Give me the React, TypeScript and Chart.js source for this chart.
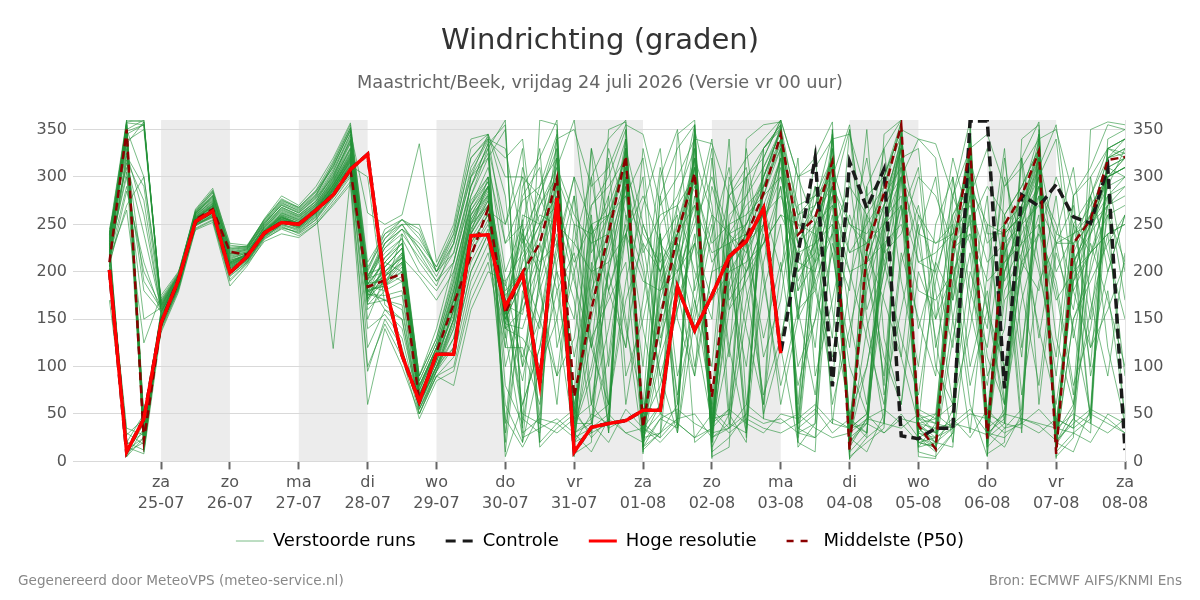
import React, { useEffect, useRef } from "react";
import { Chart, registerables } from "chart.js";

Chart.register(...registerables);

const FONT = "'DejaVu Sans', 'Noto Sans', sans-serif";

// Forecast steps in hours after vr 24-07 00 uur
const uren = [
  6, 12, 18, 24, 30, 36, 42, 48, 54, 60, 66, 72, 78, 84, 90, 96, 102, 108, 114, 120,
  126, 132, 138, 144, 150, 156, 162, 168, 174, 180, 186, 192, 198, 204, 210, 216, 222, 228, 234, 240,
  246, 252, 258, 264, 270, 276, 282, 288, 294, 300, 306, 312, 318, 324, 330, 336, 342, 348, 354, 360,
];

// Day ticks (midnight) and their labels
const tickUren = [24, 48, 72, 96, 120, 144, 168, 192, 216, 240, 264, 288, 312, 336, 360];
const dagNamen = ["za", "zo", "ma", "di", "wo", "do", "vr", "za", "zo", "ma", "di", "wo", "do", "vr", "za"];
const datums = [
  "25-07", "26-07", "27-07", "28-07", "29-07", "30-07", "31-07",
  "01-08", "02-08", "03-08", "04-08", "05-08", "06-08", "07-08", "08-08",
];

// Y-axis tick values (degrees)
const graadTicks = [0, 50, 100, 150, 200, 250, 300, 350];

// Start hour of every shaded day
const gearceerdeDagen = [24, 72, 120, 168, 216, 264, 312];

// Hoge resolutie run (up to 240 h)
const hogeResolutie = [
  202, 10, 45, 146, 191, 253, 264, 199, 216, 241, 252, 250, 265, 281, 308, 324, 188, 112, 63, 113,
  113, 238, 239, 163, 198, 82, 278, 10, 36, 40, 43, 54, 54, 184, 138, 175, 216, 232, 267, 114,
];

// Controle run
const controle = [
  202, 10, 45, 146, 191, 253, 264, 199, 216, 241, 252, 250, 265, 281, 308, 324, 188, 112, 63, 113,
  113, 238, 239, 163, 198, 82, 278, 10, 36, 40, 43, 54, 54, 184, 138, 175, 216, 232, 267, 114,
  219, 320, 79, 316, 267, 308, 27, 24, 35, 35, 359, 359, 77, 281, 269, 292, 258, 251, 310, 12,
];

// Ensemble median (P50)
const middelste = [
  210, 350, 22, 145, 190, 255, 266, 221, 218, 240, 252, 251, 265, 282, 308, 184, 191, 198, 64, 115,
  166, 216, 267, 156, 199, 230, 299, 68, 160, 241, 322, 36, 150, 240, 304, 68, 216, 237, 283, 345,
  239, 257, 316, 12, 223, 283, 355, 38, 13, 220, 332, 24, 250, 280, 327, 8, 230, 255, 318, 321,
];

// Perturbed ensemble members
const verstoordeRuns: number[][] = [
  [210,355,15,148,186,252,265,215,220,243,258,248,265,290,320,175, 205,225,70,110,180,250,290,40,
   215,250,320,30,45,60,330,25,190,240,300,40,55,300,330,350,35,25,250,20,45,240,330,15,40,260,290,30,240,260,340,25,210,250,300,310],
  [225,340,30,155,190,258,272,205,215,240,262,255,270,295,330,160, 180,240,65,100,150,300,320,200,
   250,15,35,50,270,300,350,40,230,260,20,35,250,300,45,330,200,220,340,25,40,255,280,30,50,225,240,30,45,260,300,20,55,240,270,35],
  [230,8,40,140,182,248,260,200,212,236,250,245,258,280,305,185, 195,210,80,120,170,260,280,150,
   190,230,290,20,160,250,330,30,120,220,310,55,230,250,290,355,260,270,320,10,230,300,358,40,20,210,340,30,260,290,330,15,240,260,320,325],
  [205,358,360,165,195,262,280,225,225,252,270,262,278,300,340,195, 230,250,220,190,210,280,330,360,
   30,45,40,25,35,50,30,20,45,55,40,30,35,60,45,40,50,35,25,30,45,55,40,20,25,40,35,28,50,45,38,22,40,55,45,30],
  [240,310,22,150,188,250,258,195,210,238,248,240,252,275,300,180, 170,160,55,95,130,220,250,180,
   200,240,310,360,220,260,150,15,180,230,100,200,210,240,60,340,230,120,300,355,200,90,320,330,150,200,60,5,230,110,310,355,220,100,310,300],
  [200,20,12,145,185,256,270,218,222,246,265,258,272,298,335,170, 210,200,60,105,160,240,300,140,
   160,210,270,40,100,200,300,25,60,180,280,20,180,220,260,320,250,240,280,30,210,270,340,45,30,180,300,40,240,280,320,20,200,250,290,330],
  [218,350,300,170,198,265,285,230,228,255,275,268,285,310,350,200, 240,255,240,200,230,300,345,20,
   240,280,330,20,30,40,350,15,30,45,355,10,25,50,320,360,30,40,350,5,20,35,355,25,10,30,345,15,35,55,350,10,30,45,330,340],
  [235,330,18,152,190,254,262,208,216,242,255,250,262,288,318,188, 190,215,75,115,170,250,270,160,
   110,180,240,60,150,230,290,50,140,210,270,45,200,230,250,300,210,200,270,40,180,250,300,55,45,190,280,50,210,240,280,40,190,220,260,270],
  [212,15,8,138,180,246,255,190,208,232,240,236,250,272,295,95, 150,120,50,90,100,180,220,130,
   280,310,200,150,330,100,240,300,60,180,350,270,120,30,210,290,150,330,40,190,260,80,300,230,130,20,170,280,60,320,210,90,250,150,300,200],
  [228,360,45,158,192,260,275,212,218,248,268,260,275,305,345,178, 215,230,85,125,190,270,300,170,
   50,40,30,45,60,35,45,30,50,40,25,35,55,40,30,50,45,60,40,35,50,30,45,40,25,35,50,45,30,40,55,35,50,40,30,45],
  [222,300,150,162,194,262,278,220,224,250,272,265,280,315,352,190, 225,245,230,205,240,320,340,330,
   230,270,300,250,240,260,310,240,210,240,290,230,250,260,280,300,240,260,290,250,240,270,300,260,230,240,290,250,240,260,290,240,230,250,280,290],
  [208,35,28,144,184,250,260,200,214,238,252,246,260,285,312,120, 160,140,60,100,120,200,240,60,
   20,200,340,15,250,30,320,10,240,40,330,20,220,35,300,350,25,230,330,10,30,240,340,15,20,35,330,18,250,40,320,8,230,45,330,320],
  [238,345,355,168,196,266,288,228,226,256,280,270,290,320,357,205, 235,250,250,200,220,290,335,10,
   180,140,260,30,200,240,300,20,150,250,310,25,240,220,280,340,180,250,310,20,220,300,350,35,15,230,320,20,220,270,330,12,220,260,300,320],
  [215,265,125,175,200,244,252,185,206,234,246,242,255,282,310,182, 200,190,70,110,160,230,260,155,
   310,250,180,220,120,60,190,270,330,150,90,200,280,240,110,170,300,250,60,140,220,330,190,100,250,300,160,80,200,260,130,240,310,170,90,220],
  [232,355,20,150,189,257,268,210,219,244,260,253,268,293,325,165, 185,205,65,95,150,240,275,165,
   60,120,200,35,90,180,250,40,80,160,240,30,120,200,250,320,160,180,260,25,100,200,300,30,20,150,260,35,180,220,300,15,150,200,270,290],
  [202,5,35,142,183,252,263,204,215,241,256,249,264,119,300,100, 145,110,45,85,95,170,210,120,
   260,250,280,200,270,290,320,220,260,270,300,210,240,270,290,330,260,280,300,220,250,280,310,210,200,260,300,230,250,270,310,200,240,270,300,310],
  [245,325,260,160,192,259,276,216,221,247,266,258,272,300,338,192, 220,235,200,180,210,280,320,350,
   35,360,355,8,20,350,358,12,30,345,360,5,15,340,355,358,20,10,350,3,25,345,360,10,5,30,355,8,20,340,355,5,25,350,358,355],
  [220,358,10,147,187,253,266,212,217,242,257,252,266,292,322,174, 195,220,80,115,175,255,285,145,
   140,200,300,50,180,230,340,35,170,230,320,40,190,240,300,350,200,230,310,30,190,260,330,25,18,220,330,20,200,260,330,18,210,240,310,320],
  [170,28,45,136,178,245,254,192,209,235,245,238,250,270,292,60, 140,100,50,90,80,160,200,190,
   220,260,250,230,200,210,240,190,180,200,230,170,200,210,230,260,220,230,250,200,210,230,250,180,170,200,240,190,210,230,250,170,200,220,240,250],
  [226,350,360,156,191,261,279,222,225,251,270,262,277,306,342,186, 230,245,210,185,230,300,330,250,
   330,20,40,55,25,45,30,35,20,40,25,50,30,45,35,30,40,55,30,45,25,40,35,50,30,45,25,55,35,40,30,45,35,50,40,30],
  [214,290,200,163,195,255,270,207,216,244,262,255,269,296,330,198, 205,225,90,130,200,270,295,175,
   200,150,90,230,300,180,120,250,200,70,160,290,230,140,60,200,270,180,110,240,320,210,130,70,190,280,230,160,100,210,290,250,180,120,200,260],
  [236,340,15,151,188,251,262,203,213,239,254,247,262,286,314,176, 175,180,60,100,140,230,260,150,
   255,40,300,25,260,50,330,20,240,60,320,30,250,40,290,340,50,260,320,20,40,270,340,35,30,230,320,25,55,270,320,20,45,260,320,330],
  [210,270,300,172,199,263,283,226,227,253,274,266,282,312,348,262, 250,260,335,210,250,340,345,280,
   100,150,220,300,120,200,280,320,130,190,260,340,170,200,250,310,180,210,280,350,160,220,300,340,320,170,280,330,190,230,300,340,180,220,280,300],
  [229,355,32,149,186,256,267,209,218,243,259,251,267,291,320,183, 200,215,75,120,180,260,290,160,
   245,20,330,40,210,30,310,45,220,35,340,50,230,25,330,355,40,210,330,40,30,230,345,45,50,35,320,40,230,30,340,35,220,40,330,325],
  [204,12,25,141,181,249,258,198,211,237,249,243,257,279,304,140, 155,130,55,90,110,190,230,140,
   290,320,360,5,300,340,360,8,280,330,355,3,290,320,340,360,300,320,358,2,290,330,360,5,3,280,360,6,290,320,358,3,280,310,355,350],
  [241,335,358,166,196,264,286,224,227,255,277,268,286,317,355,210, 240,250,225,195,230,310,340,30,
   170,220,280,45,170,220,300,40,160,220,300,35,210,240,280,330,190,230,290,30,200,250,320,40,35,190,300,30,200,250,310,28,190,240,300,310],
  [218,305,180,158,192,258,272,211,219,246,263,256,270,297,328,172, 190,200,65,105,160,245,275,165,
   45,30,300,20,50,40,330,15,45,35,345,25,40,30,310,350,35,50,320,15,45,40,340,20,15,55,340,25,40,35,330,18,45,30,320,340],
  [231,348,38,153,189,255,266,207,217,242,258,250,265,289,316,187, 210,230,80,120,185,265,295,155,
   210,250,270,210,250,260,280,230,200,240,270,220,230,240,260,280,230,250,270,220,230,250,270,210,220,240,270,210,230,250,270,230,240,250,270,280],
  [207,30,18,143,184,251,261,201,214,240,253,248,263,287,312,300, 165,150,60,100,130,210,245,45,
   15,50,350,30,10,45,340,25,30,60,350,15,50,20,330,355,15,40,345,25,10,50,355,35,20,15,345,30,15,50,345,20,10,55,340,350],
  [239,357,355,169,197,262,281,219,223,250,271,263,279,308,345,194, 235,255,245,200,240,320,342,230,
   275,290,320,35,240,270,320,30,250,280,330,20,260,280,310,345,270,280,320,25,260,290,345,30,25,240,330,25,260,290,330,15,250,280,320,330],
  [216,315,240,161,193,257,271,213,220,245,261,254,268,295,326,181, 185,195,70,110,155,240,270,140,
   130,100,150,25,130,170,210,20,110,170,230,30,160,190,230,290,150,190,240,20,140,210,270,25,15,130,220,20,170,200,260,18,150,190,230,260],
  [227,342,12,150,187,253,264,206,216,241,256,249,264,288,317,168, 200,220,85,125,190,265,290,170,
   235,200,320,40,40,250,310,35,60,240,320,45,50,260,300,340,60,240,320,35,50,250,330,40,45,60,310,35,50,250,320,30,60,250,310,320],
  [213,322,290,164,194,260,274,217,221,248,267,259,274,302,336,195, 225,240,215,190,220,290,325,5,
   60,120,230,170,40,110,260,200,90,30,150,240,310,180,70,130,220,290,160,50,100,200,270,140,210,320,250,110,60,170,240,190,80,140,260,210],
  [234,352,42,154,190,254,263,205,215,240,255,248,263,287,315,177, 170,165,55,95,140,220,255,150,
   190,270,310,260,230,240,330,250,200,250,320,260,240,250,300,350,240,270,310,250,230,280,330,240,230,250,320,240,240,260,320,230,230,260,300,320],
  [219,18,30,146,185,250,259,199,212,238,250,244,259,283,308,150, 195,210,75,115,170,250,280,135,
   25,35,45,30,40,20,55,35,25,45,50,25,35,50,40,45,30,25,45,35,40,30,50,25,35,40,55,30,25,45,40,35,30,20,50,40],
  [242,360,358,167,197,263,284,223,226,254,276,267,284,314,352,202, 245,255,235,205,245,330,345,300,
   300,280,340,350,290,310,355,345,270,300,340,335,280,300,320,360,300,310,340,345,280,300,350,340,335,280,330,345,290,310,340,350,280,300,330,340],
  [206,285,210,157,191,256,269,210,218,244,260,253,267,294,324,185, 180,190,65,105,150,240,270,160,
   85,190,260,50,30,210,290,40,25,200,300,55,35,210,270,320,40,220,290,45,30,220,310,50,40,35,290,50,40,220,290,45,35,210,290,300],
  [233,345,25,152,188,252,263,204,214,240,254,247,262,286,313,171, 205,225,80,120,180,260,290,145,
   225,290,345,20,230,280,340,15,200,270,355,25,220,280,330,352,230,270,345,15,220,290,358,20,15,220,345,15,230,280,345,12,225,280,330,340],
  [224,10,20,144,183,249,257,196,210,236,247,241,255,278,302,189, 160,150,50,95,120,200,240,185,
   240,210,230,300,250,180,240,280,230,200,250,300,240,200,230,260,250,210,240,290,260,220,240,300,280,230,250,290,260,210,240,300,250,220,240,250],
  [237,338,350,165,196,261,280,221,224,252,273,264,281,311,349,183, 215,235,90,130,195,275,300,165,
   155,245,300,55,190,260,320,50,180,240,310,45,210,250,290,335,210,250,300,40,210,270,330,45,40,210,310,40,220,260,310,35,210,250,300,310],
  [221,352,28,159,193,259,273,214,220,247,264,257,271,299,331,179, 188,208,72,112,165,252,282,120,
   120,60,210,280,170,320,90,150,240,30,190,260,110,330,200,60,150,290,220,100,50,180,260,310,120,210,80,160,300,230,140,60,190,280,220,150],
  [211,325,190,161,193,258,270,209,217,243,259,251,266,292,321,193, 200,215,195,170,200,270,310,230,
   250,330,120,200,60,140,240,100,300,350,180,250,40,150,270,200,320,90,170,260,200,110,60,240,300,150,30,200,330,120,250,180,70,300,200,260],
  [226,20,50,153,189,255,266,210,218,243,258,250,264,289,318,166, 170,175,58,98,145,235,265,250,
   300,180,90,130,250,60,170,230,120,270,200,150,340,60,180,250,100,150,280,200,130,60,220,150,90,300,180,120,250,70,190,230,140,50,280,170],
  [217,348,355,163,195,261,277,219,223,249,268,260,274,303,339,187, 210,230,90,140,210,290,335,355,
   20,100,180,70,330,250,140,60,280,180,90,320,160,230,50,120,260,190,80,300,150,40,210,270,180,60,140,250,90,200,280,130,60,160,240,90],
  [233,5,25,147,185,251,262,203,214,239,253,246,261,286,311,180, 185,200,62,100,150,225,262,100,
   170,280,230,110,200,330,260,140,50,230,170,100,280,310,190,80,160,240,130,350,220,170,110,260,200,120,300,160,60,210,180,280,130,230,170,100],
  [208,318,275,158,190,257,269,208,216,242,257,250,265,291,323,192, 230,245,225,200,235,305,338,320,
   340,190,60,250,130,40,300,210,90,160,230,330,50,170,240,120,20,200,290,150,60,230,110,40,210,170,260,90,140,320,60,220,160,280,120,40],
  [239,356,40,151,188,254,264,206,216,241,255,249,263,288,316,183, 195,218,78,118,172,255,288,190,
   100,230,150,280,60,200,120,330,240,90,170,60,300,230,130,210,80,150,220,120,290,70,160,250,100,60,200,140,320,180,80,230,270,120,160,210],
  [214,338,45,157,191,256,268,209,217,243,257,251,266,291,319,178, 190,210,70,108,160,245,278,80,
   40,150,260,190,120,280,60,170,310,220,140,40,190,100,250,320,160,70,230,180,350,130,60,200,150,250,100,180,40,270,200,110,280,90,180,50],
];

const GROEN = "rgba(35,145,55,0.6)";
const ROOD = "#ff0000";
const DONKERROOD = "#8b0000";
const ZWART = "#1a1a1a";

const punten = (waarden: number[]) => waarden.map((y, i) => ({ x: uren[i], y }));

// Light grey background for every other day
const dagBanden = {
  id: "dagBanden",
  beforeDraw(chart: any) {
    const { ctx, chartArea, scales } = chart;
    const x = scales.x;
    ctx.save();
    ctx.fillStyle = "#ececec";
    for (const start of gearceerdeDagen) {
      const x0 = x.getPixelForValue(start);
      const x1 = x.getPixelForValue(start + 24);
      ctx.fillRect(x0, chartArea.top, x1 - x0, chartArea.bottom - chartArea.top);
    }
    ctx.restore();
  },
};

// Pull the legend row up closer to the date labels
const legendaPlaats = {
  id: "legendaPlaats",
  afterLayout(chart: any) {
    const legend = chart.legend;
    if (!legend) return;
    const hoogte = legend.bottom - legend.top;
    legend.top = 502;
    legend.bottom = 502 + hoogte;
  },
};

const yTicks = {
  color: "#555",
  font: { family: FONT, size: 16 },
};

const zetGraadTicks = (axis: any) => {
  axis.ticks = graadTicks.map((value) => ({ value }));
};

export default function App() {
  const canvasRef = useRef<HTMLCanvasElement | null>(null);

  useEffect(() => {
    document.body.style.margin = "0";
    const canvas = canvasRef.current;
    if (!canvas) return;

    const datasets: any[] = [
      { label: "Hoge resolutie", data: punten(hogeResolutie), borderColor: ROOD, borderWidth: 3.5, order: 0 },
      { label: "Middelste (P50)", data: punten(middelste), borderColor: DONKERROOD, borderWidth: 2.5, borderDash: [8, 5], order: 1 },
      { label: "Controle", data: punten(controle), borderColor: ZWART, borderWidth: 3.5, borderDash: [10, 5], order: 2 },
      ...verstoordeRuns.map((run) => ({
        label: "Verstoorde runs",
        data: punten(run),
        borderColor: GROEN,
        borderWidth: 1,
        order: 3,
      })),
    ];

    const chart = new Chart(canvas, {
      type: "line",
      data: { datasets },
      plugins: [dagBanden, legendaPlaats],
      options: {
        animation: false,
        responsive: false,
        devicePixelRatio: 1,
        elements: { point: { radius: 0 }, line: { tension: 0 } },
        layout: { padding: { left: 0, right: 0, top: 0, bottom: 25 } },
        plugins: {
          title: {
            display: true,
            text: "Windrichting (graden)",
            color: "#333",
            font: { family: FONT, size: 29, weight: "normal" },
            padding: { top: 23.6, bottom: 4 },
          },
          subtitle: {
            display: true,
            text: "Maastricht/Beek, vrijdag 24 juli 2026 (Versie vr 00 uur)",
            color: "#666",
            font: { family: FONT, size: 17.7 },
            padding: { top: 10, bottom: 26.4 },
          },
          legend: {
            position: "bottom",
            onClick: () => {},
            labels: {
              usePointStyle: true,
              pointStyleWidth: 28,
              padding: 30,
              color: "#222",
              font: { family: FONT, size: 18 },
              generateLabels: () => [
                { text: "Verstoorde runs", fillStyle: GROEN, strokeStyle: GROEN, lineWidth: 1, lineDash: [], pointStyle: "line", hidden: false, datasetIndex: 3 },
                { text: "Controle", fillStyle: ZWART, strokeStyle: ZWART, lineWidth: 3, lineDash: [10, 7], pointStyle: "line", hidden: false, datasetIndex: 2 },
                { text: "Hoge resolutie", fillStyle: ROOD, strokeStyle: ROOD, lineWidth: 3, lineDash: [], pointStyle: "line", hidden: false, datasetIndex: 0 },
                { text: "Middelste (P50)", fillStyle: DONKERROOD, strokeStyle: DONKERROOD, lineWidth: 2.5, lineDash: [7, 7], pointStyle: "line", hidden: false, datasetIndex: 1 },
              ],
            },
          },
          tooltip: { enabled: false },
        },
        scales: {
          x: {
            type: "linear",
            min: -6.7,
            max: 360,
            afterBuildTicks: (axis: any) => {
              axis.ticks = tickUren.map((value) => ({ value }));
            },
            ticks: {
              autoSkip: false,
              maxRotation: 0,
              color: "#555",
              padding: 3,
              font: { family: FONT, size: 16, lineHeight: 1.3 },
              callback: (_v: any, i: number) => [dagNamen[i], datums[i]],
            },
            grid: { drawOnChartArea: false, drawTicks: true, tickLength: 8, tickWidth: 2, tickColor: "#666" },
            border: { display: false },
          },
          y: {
            position: "left",
            min: 0,
            max: 360,
            afterBuildTicks: zetGraadTicks,
            afterFit: (axis: any) => {
              axis.width = 73;
            },
            ticks: { ...yTicks, padding: 6 },
            grid: { color: "#d9d9d9", drawTicks: false },
            border: { display: false },
          },
          y2: {
            position: "right",
            min: 0,
            max: 360,
            afterBuildTicks: zetGraadTicks,
            afterFit: (axis: any) => {
              axis.width = 75;
            },
            ticks: { ...yTicks, padding: 8 },
            grid: { display: false, drawTicks: false },
            border: { display: true, color: "#e4e4e4", width: 1 },
          },
        },
      } as any,
    });

    return () => chart.destroy();
  }, []);

  const voet: React.CSSProperties = {
    position: "absolute",
    top: 572,
    fontFamily: FONT,
    fontSize: 13.6,
    lineHeight: "16px",
    color: "#888",
  };

  return (
    <div style={{ position: "relative", width: 1200, height: 600 }}>
      <canvas ref={canvasRef} width={1200} height={600} style={{ display: "block" }} />
      <div style={{ ...voet, left: 18 }}>Gegenereerd door MeteoVPS (meteo-service.nl)</div>
      <div style={{ ...voet, right: 18 }}>Bron: ECMWF AIFS/KNMI Ens</div>
    </div>
  );
}
